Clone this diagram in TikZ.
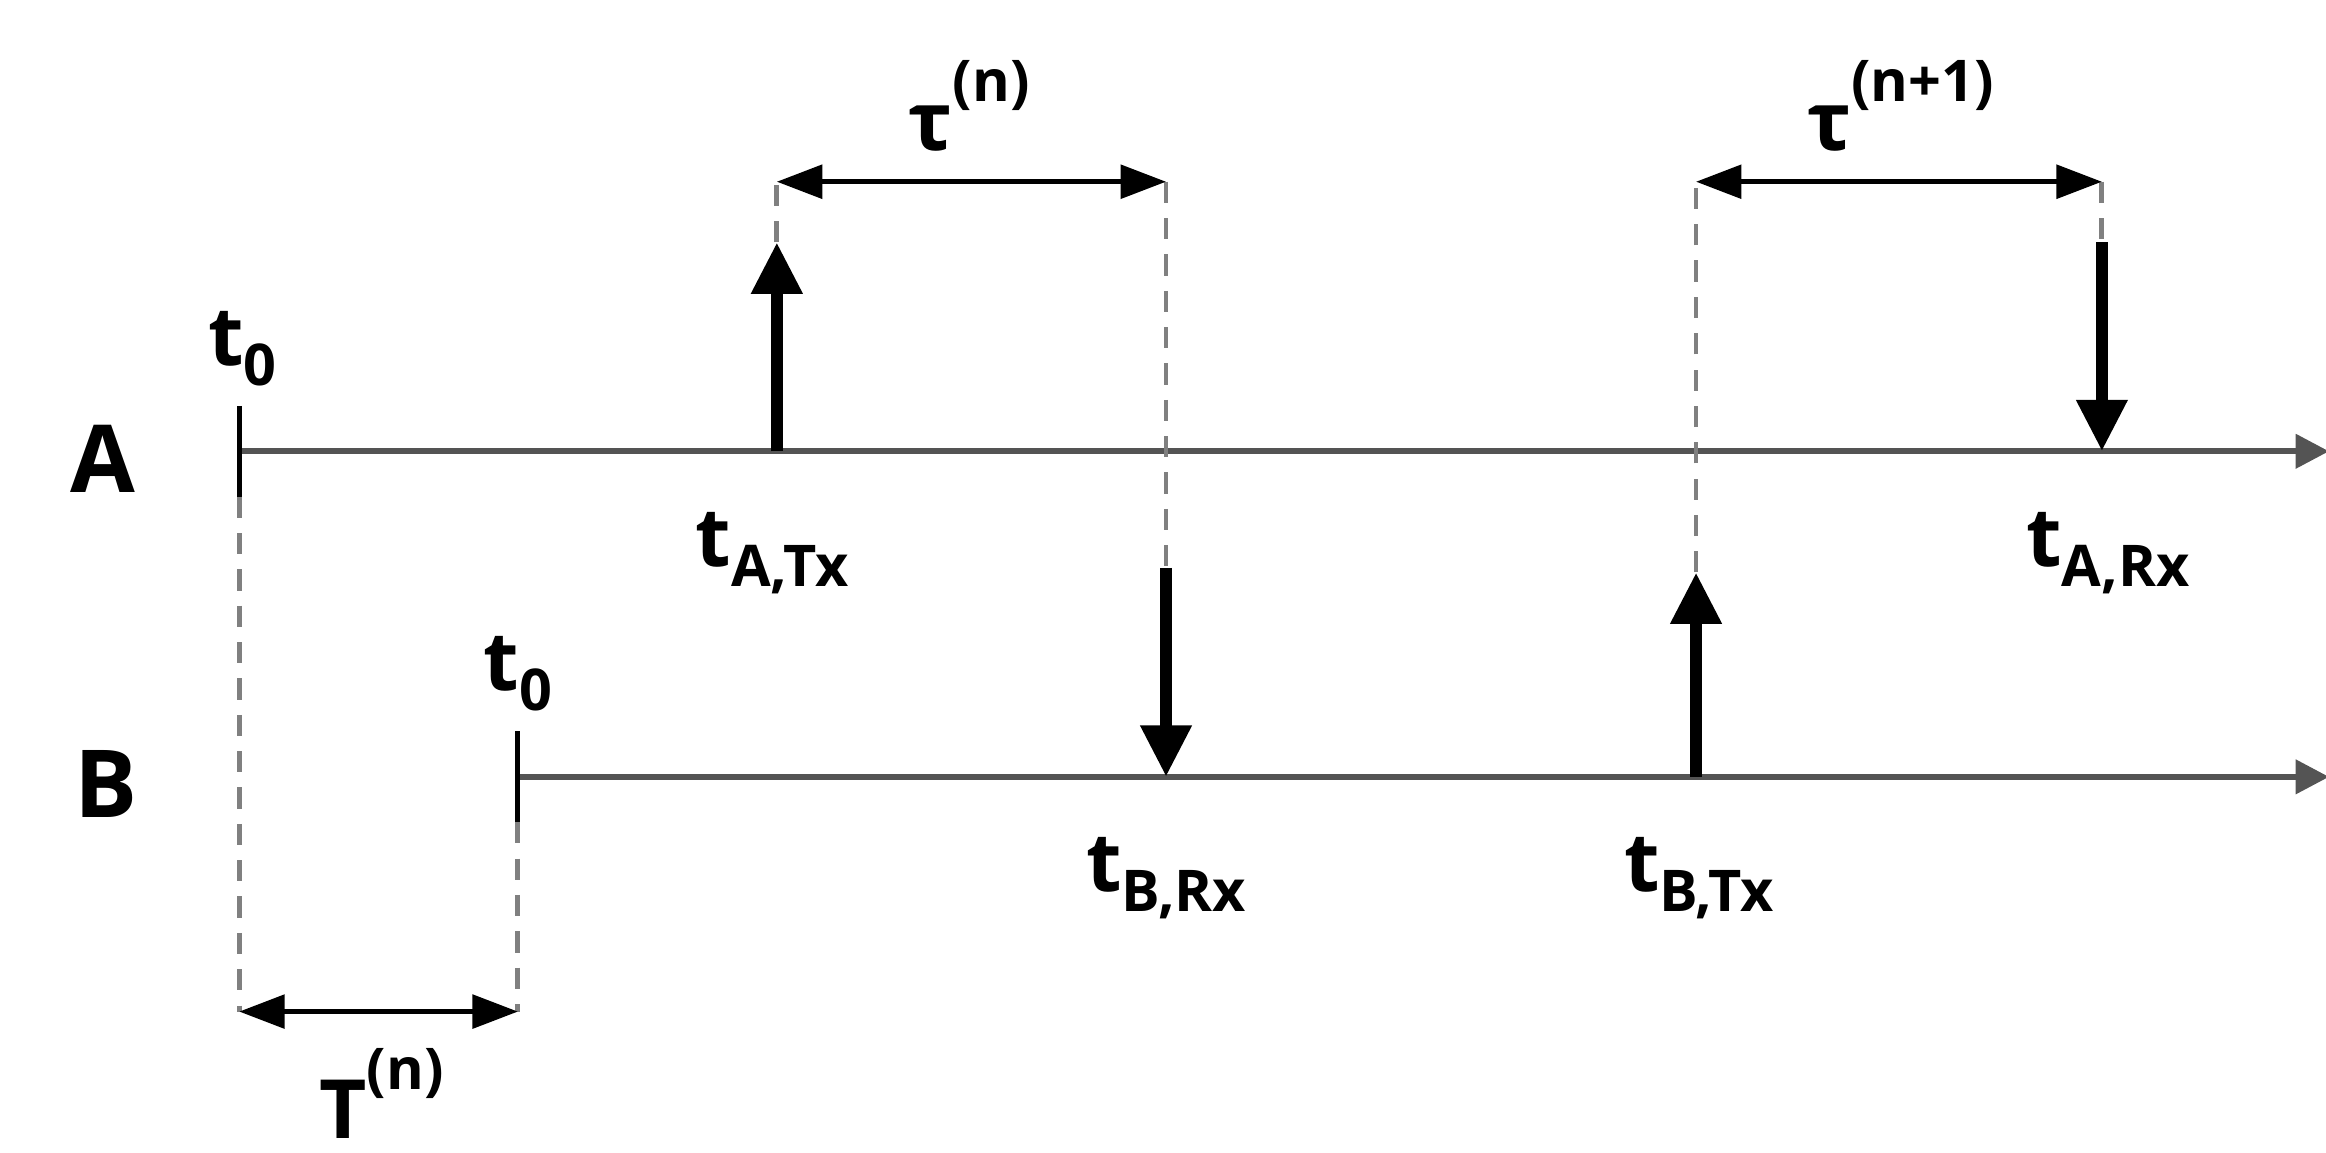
\documentclass[tikz,border=0pt]{standalone}
\usepackage{fontspec}
\setmainfont{Open Sans}
\usetikzlibrary{arrows.meta}
\newcommand{\sub}[1]{\raisebox{-0.45ex}{\fontsize{19}{19}\selectfont #1}}
\newcommand{\supr}[1]{\raisebox{1.1ex}{\fontsize{19}{19}\selectfont #1}}
\begin{document}
\begin{tikzpicture}[x=0.5pt,y=-0.5pt,
 axis/.style={draw=black!67,line width=2pt,-{Triangle[length=11pt,width=11pt]}},
 tick/.style={draw=black,line width=1.6pt},
 guide/.style={draw=black!50,line width=1.6pt,dash pattern=on 7pt off 5pt},
 sig/.style={draw=black,line width=4pt,-{Triangle[length=17pt,width=16pt]}},
 dim/.style={draw=black,line width=1.6pt,{Triangle[length=15pt,width=11pt]}-{Triangle[length=15pt,width=11pt]}},
 lab/.style={font=\bfseries\fontsize{27}{27}\selectfont,inner sep=0pt},
 big/.style={font=\bfseries\fontsize{31}{31}\selectfont,inner sep=0pt}]
\useasboundingbox (0,0) rectangle (1536,761);
\coordinate (a0) at (158,298); \coordinate (aend) at (1538,298);
\coordinate (b0) at (342,513); \coordinate (bend) at (1538,513);
\draw[axis] (a0) -- (aend);
\draw[axis] (b0) -- (bend);
\draw[tick] (158,268) -- (158,328);
\draw[tick] (342,483) -- (342,543);
\node[big] (A) at (68,303) {A};
\node[big] (B) at (70,518) {B};
\node[lab] (ta0) at (160,230) {t\sub{0}};
\node[lab] (tb0) at (342,445) {t\sub{0}};
\coordinate (g1t) at (158,328); \coordinate (g1b) at (158,668);
\coordinate (g2t) at (342,543); \coordinate (g2b) at (342,668);
\draw[guide] (g1t) -- (g1b);
\draw[guide] (g2t) -- (g2b);
\draw[dim] (g1b) -- (g2b);
\node[lab] (T) at (252,722) {T\supr{(n)}};
\coordinate (atx0) at (513,298); \coordinate (atx1) at (513,160); \coordinate (atx2) at (513,120);
\draw[sig] (atx0) -- (atx1);
\draw[guide] (atx1) -- (atx2);
\coordinate (brx2) at (770,120); \coordinate (brx1) at (770,375); \coordinate (brx0) at (770,513);
\draw[guide] (brx2) -- (brx1);
\draw[sig] (brx1) -- (brx0);
\draw[dim] (atx2) -- (brx2);
\node[lab] (tau1) at (640,70) {τ\supr{(n)}};
\node[lab] (tatx) at (510,365) {t\sub{A,Tx}};
\node[lab] (tbrx) at (770,580) {t\sub{B,Rx}};
\coordinate (btx0) at (1120,513); \coordinate (btx1) at (1120,378); \coordinate (btx2) at (1120,120);
\draw[sig] (btx0) -- (btx1);
\draw[guide] (btx1) -- (btx2);
\coordinate (arx2) at (1388,120); \coordinate (arx1) at (1388,160); \coordinate (arx0) at (1388,298);
\draw[guide] (arx2) -- (arx1);
\draw[sig] (arx1) -- (arx0);
\draw[dim] (btx2) -- (arx2);
\node[lab] (tau2) at (1255,70) {τ\supr{(n+1)}};
\node[lab] (tarx) at (1392,365) {t\sub{A,Rx}};
\node[lab] (tbtx) at (1122,580) {t\sub{B,Tx}};
\end{tikzpicture}
\end{document}
